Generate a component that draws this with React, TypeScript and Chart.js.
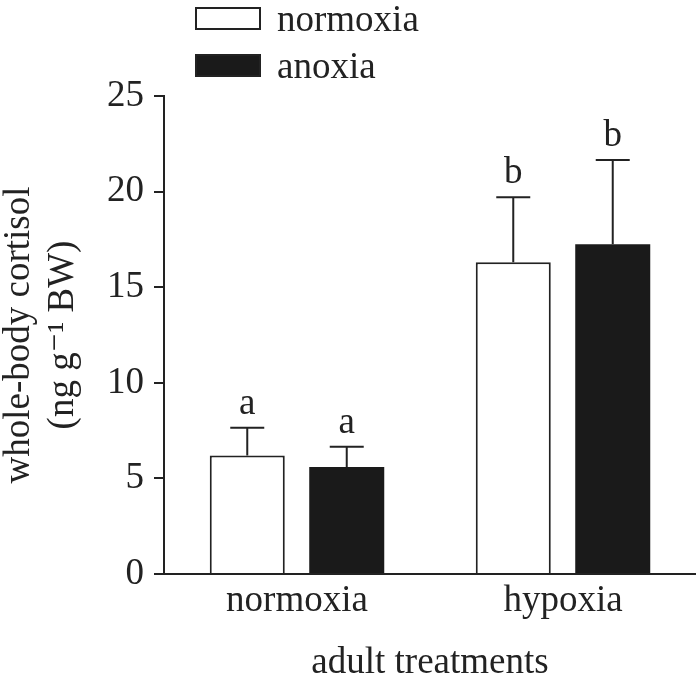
import React, { useEffect, useRef } from "react";
import { Chart, registerables } from "chart.js";

Chart.register(...registerables);

const categories = ["normoxia", "hypoxia"];
const seriesNames = ["normoxia", "anoxia"];
const normoxiaMeans = [6.2, 16.3];
const normoxiaErr = [1.45, 3.4];
const anoxiaMeans = [5.6, 17.25];
const anoxiaErr = [1.05, 4.4];
const normoxiaLetters = ["a", "b"];
const anoxiaLetters = ["a", "b"];
const yTicks = [0, 5, 10, 15, 20, 25];

const INK = "#222222";
const FONT = "'Liberation Serif', 'DejaVu Serif', serif";

const errorPlugin = {
  id: "errorBarsLetters",
  afterDatasetsDraw(chart: any) {
    const ctx = chart.ctx;
    const y = chart.scales.y;
    ctx.save();
    chart.data.datasets.forEach((ds: any, di: number) => {
      const meta = chart.getDatasetMeta(di);
      meta.data.forEach((bar: any, i: number) => {
        const v = ds.data[i];
        const e = ds.errors[i];
        const top = y.getPixelForValue(v);
        const capY = y.getPixelForValue(v + e);
        ctx.strokeStyle = INK;
        ctx.lineWidth = 2;
        ctx.beginPath();
        ctx.moveTo(bar.x, top);
        ctx.lineTo(bar.x, capY);
        ctx.moveTo(bar.x - 17, capY);
        ctx.lineTo(bar.x + 17, capY);
        ctx.stroke();
        ctx.fillStyle = INK;
        ctx.font = `37px ${FONT}`;
        ctx.textAlign = "center";
        ctx.textBaseline = "alphabetic";
        ctx.fillText(ds.letters[i], bar.x, capY - 14);
      });
    });
    ctx.restore();
  },
};

const legendPlugin = {
  id: "stackLegend",
  afterDraw(chart: any) {
    const ctx = chart.ctx;
    ctx.save();
    chart.data.datasets.forEach((ds: any, di: number) => {
      const bx = 196;
      const by = 8 + di * 47;
      ctx.fillStyle = ds.backgroundColor;
      ctx.fillRect(bx, by, 64, 21);
      ctx.strokeStyle = INK;
      ctx.lineWidth = 2;
      ctx.strokeRect(bx, by, 64, 21);
      ctx.fillStyle = INK;
      ctx.font = `37px ${FONT}`;
      ctx.textAlign = "left";
      ctx.textBaseline = "alphabetic";
      ctx.fillText(ds.label, 277, by + 23);
    });
    ctx.restore();
  },
};

export default function App() {
  const ref = useRef<HTMLCanvasElement>(null);
  useEffect(() => {
    document.body.style.margin = "0";
    const chart = new Chart(ref.current!, {
      type: "bar",
      data: {
        labels: categories,
        datasets: [
          {
            label: seriesNames[0],
            data: normoxiaMeans,
            errors: normoxiaErr,
            letters: normoxiaLetters,
            backgroundColor: "#ffffff",
            borderColor: INK,
            borderWidth: 2,
            categoryPercentage: 0.748,
            barPercentage: 0.754,
          } as any,
          {
            label: seriesNames[1],
            data: anoxiaMeans,
            errors: anoxiaErr,
            letters: anoxiaLetters,
            backgroundColor: "#1a1a1a",
            borderColor: "#1a1a1a",
            borderWidth: 0,
            categoryPercentage: 0.748,
            barPercentage: 0.754,
          } as any,
        ],
      },
      options: {
        responsive: false,
        animation: false,
        layout: { padding: { top: 96, right: 0, bottom: 0, left: 0 } },
        plugins: { legend: { display: false }, tooltip: { enabled: false } },
        scales: {
          x: {
            afterFit: (s: any) => {
              s.height = 106;
            },
            grid: { display: false, drawTicks: false },
            border: { display: true, color: INK, width: 2 },
            ticks: { color: INK, font: { family: FONT, size: 37 }, padding: 5 },
            title: {
              display: true,
              text: "adult treatments",
              color: INK,
              font: { family: FONT, size: 37, lineHeight: 0.92 },
              padding: { top: 0, bottom: 0 },
            },
          },
          y: {
            min: 0,
            max: 25,
            afterFit: (s: any) => {
              s.width = 164;
            },
            afterBuildTicks: (s: any) => {
              s.ticks = yTicks.map((v) => ({ value: v }));
            },
            grid: {
              display: true,
              drawOnChartArea: false,
              drawTicks: true,
              tickLength: 10,
              color: INK,
              lineWidth: 2,
            },
            border: { display: true, color: INK, width: 2 },
            ticks: { color: INK, font: { family: FONT, size: 37 }, padding: 10 },
            title: {
              display: true,
              text: ["whole-body cortisol", "(ng g\u207B\u00B9 BW)"],
              color: INK,
              font: { family: FONT, size: 37, lineHeight: 1.2 },
              padding: { top: -3, bottom: 0 },
            },
          },
        },
      },
      plugins: [errorPlugin, legendPlugin],
    });
    return () => chart.destroy();
  }, []);
  return <canvas ref={ref} width={696} height={680} style={{ display: "block" }} />;
}
